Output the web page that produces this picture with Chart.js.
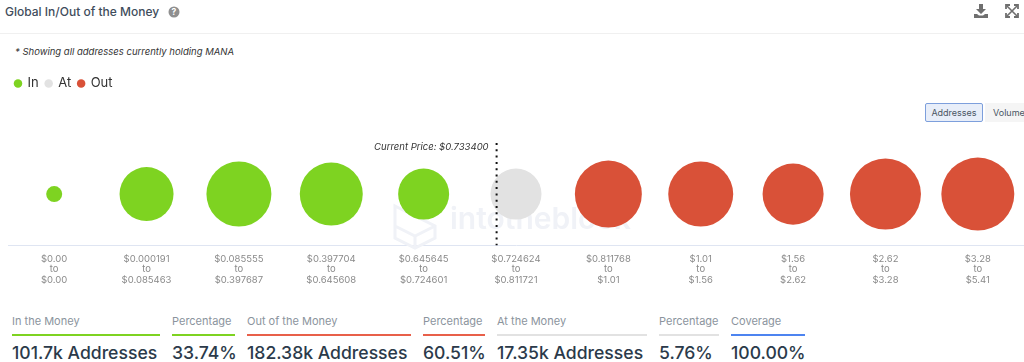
<!DOCTYPE html>
<html lang="en">
<head>
  <meta charset="UTF-8">
  <title>Global In/Out of the Money</title>
  <script src="https://cdn.jsdelivr.net/npm/chart.js"></script>
  <style>
    html, body {
      margin: 0;
      background: #fff;
      overflow: hidden;
    }
    body {
      font-family: Inter, 'Noto Sans', sans-serif;
      width: 1024px;
      height: 362px;
      position: relative;
      color: #2b3a4a;
    }
    .abs { position: absolute; white-space: nowrap; }
    .title { left: 5px; top: 3px; font-size: 12px; line-height: 18px; font-weight: 500; color: #3f4d5c; }
    .rule { left: 0; top: 33px; width: 1024px; height: 1px; background: #f0f0f0; }
    .note { left: 15px; top: 45px; font-size: 9.5px; line-height: 13px; font-style: italic; color: #333; }
    .btn { top: 103px; height: 19px; line-height: 19px; font-size: 9px; text-align: center; color: #4a5563; box-sizing: border-box; }
    #btnAddr { left: 925px; width: 58px; background: #e8eef9; border: 1px solid #7d9fdc; border-radius: 2px; line-height: 17px; }
    #btnVol { left: 985px; width: 39px; background: #f5f5f5; text-align: left; padding-left: 8px; overflow: hidden; }
    #chartWrap { left: 0; top: 70px; width: 1024px; height: 224px; }
    .statLabel { top: 314px; font-size: 11px; line-height: 14px; color: #8b949d; }
    .statBar { top: 334px; height: 2px; }
    .statValue { top: 342px; font-size: 17.6px; line-height: 22px; font-weight: 500; color: #2b3a4a; }
    svg { position: absolute; }
  </style>
</head>
<body>
  <div class="abs title">Global In/Out of the Money</div>
  <svg style="left:168px;top:6px" width="12" height="12" viewBox="0 0 12 12">
    <circle cx="6" cy="6" r="5.5" fill="#8f8f8f"/>
    <text x="6" y="9" font-size="8.5" font-weight="700" text-anchor="middle" fill="#fff" font-family="Inter">?</text>
  </svg>
  <svg style="left:974px;top:4px" width="14" height="14" viewBox="0 0 14 14">
    <path d="M5 0h4v5h3L7 10 2 5h3z M0 10h3l2 1.5h4L11 10h3v4H0z" fill="#6f6f6f"/>
  </svg>
  <svg style="left:1005px;top:4px" width="14" height="14" viewBox="0 0 14 14" fill="none" stroke="#6f6f6f" stroke-width="1.6">
    <path d="M2 2l10 10M12 2L2 12"/>
    <path d="M1 5V1h4M9 1h4v4M13 9v4H9M5 13H1V9" stroke-width="1.8"/>
  </svg>
  <div class="abs rule"></div>
  <div class="abs note">* Showing all addresses currently holding MANA</div>
  <div class="abs btn" id="btnAddr">Addresses</div>
  <div class="abs btn" id="btnVol">Volume</div>
  <div class="abs" id="chartWrap"><canvas id="moneyChart" width="1024" height="224"></canvas></div>
  <div id="stats"></div>

  <script>
    const rangeFrom = ["$0.00", "$0.000191", "$0.085555", "$0.397704", "$0.645645", "$0.724624", "$0.811768", "$1.01", "$1.56", "$2.62", "$3.28"];
    const rangeTo = ["$0.00", "$0.085463", "$0.397687", "$0.645608", "$0.724601", "$0.811721", "$1.01", "$1.56", "$2.62", "$3.28", "$5.41"];

    // addresses per bucket in thousands
    const inValues = [0.96, 20.0, 31.8, 29.4, 17.35];
    const atValues = [17.35];
    const outValues = [34.3, 31.8, 27.2, 39.7, 42.5];

    const currentPriceLabel = "Current Price: $0.733400";
    const currentPriceIndex = 4.79;

    const statLabels = ["In the Money", "Percentage", "Out of the Money", "Percentage", "At the Money", "Percentage", "Coverage"];
    const statValues = ["101.7k Addresses", "33.74%", "182.38k Addresses", "60.51%", "17.35k Addresses", "5.76%", "100.00%"];
    const statColors = ["#7ed321", "#7ed321", "#e8604a", "#e8604a", "#e2e2e2", "#e2e2e2", "#4d84f0"];
    const statLeft = [12, 172, 247, 423, 497, 659, 731];
    const statWidth = [148, 63, 164, 62, 150, 60, 74];

    const stats = document.getElementById("stats");
    statLabels.forEach((label, i) => {
      stats.innerHTML +=
        `<div class="abs statLabel" style="left:${statLeft[i]}px">${label}</div>` +
        `<div class="abs statBar" style="left:${statLeft[i]}px;width:${statWidth[i]}px;background:${statColors[i]}"></div>` +
        `<div class="abs statValue" style="left:${statLeft[i]}px">${statValues[i]}</div>`;
    });

    // bubbles need a string x to land on the right category, the tick callback splits it again
    const labels = rangeFrom.map((from, i) => from + "|to|" + rangeTo[i]);

    // bubble radius grows slower than the square root of the address count
    function radius(ctx) {
      const v = ctx.raw ? ctx.raw.v : 0;
      return 25.5 * Math.pow(v / 17.35, 0.4);
    }

    const toPoints = (values, start) => values.map((v, i) => ({ x: labels[start + i], y: 0.5, v }));

    const priceLine = {
      id: "priceLine",
      beforeInit(chart) {
        // leaves the gap between legend and plot
        const fit = chart.legend.fit;
        chart.legend.fit = function () {
          fit.call(this);
          this.height += 43;
        };
      },
      beforeDatasetsDraw(chart) {
        const { ctx, chartArea } = chart;
        ctx.save();
        ctx.fillStyle = "#f0f2f7";
        ctx.font = "600 30px Inter";
        ctx.textBaseline = "middle";
        ctx.fillText("intotheblock", 450, chartArea.top + 77);
        ctx.strokeStyle = "#f0f2f7";
        ctx.lineWidth = 3;
        const cx = 415, cy = chartArea.top + 83;
        ctx.beginPath();
        ctx.moveTo(cx - 20, cy - 20);
        ctx.lineTo(cx + 20, cy);
        ctx.lineTo(cx + 20, cy + 12);
        ctx.lineTo(cx, cy + 22);
        ctx.lineTo(cx - 20, cy + 12);
        ctx.closePath();
        ctx.moveTo(cx - 20, cy);
        ctx.lineTo(cx, cy + 10);
        ctx.lineTo(cx + 20, cy);
        ctx.moveTo(cx, cy + 10);
        ctx.lineTo(cx, cy + 22);
        ctx.stroke();
        ctx.restore();
      },
      afterDatasetsDraw(chart) {
        const { ctx, chartArea, scales } = chart;
        const x = scales.x.getPixelForValue(currentPriceIndex);
        ctx.save();
        ctx.strokeStyle = "#111";
        ctx.lineWidth = 2;
        ctx.setLineDash([2, 4.3]);
        ctx.beginPath();
        ctx.moveTo(x, chartArea.top);
        ctx.lineTo(x, chartArea.bottom);
        ctx.stroke();
        ctx.setLineDash([]);
        ctx.fillStyle = "#333";
        ctx.font = "italic 9.5px Inter";
        ctx.textAlign = "right";
        ctx.textBaseline = "middle";
        ctx.fillText(currentPriceLabel, x - 8, chartArea.top + 4);
        ctx.restore();
      }
    };

    new Chart(document.getElementById("moneyChart"), {
      type: "bubble",
      data: {
        labels,
        datasets: [
          { label: "In", data: toPoints(inValues, 0), backgroundColor: "#7ed321", hoverBackgroundColor: "#7ed321" },
          { label: "At", data: toPoints(atValues, 5), backgroundColor: "#e2e2e2", hoverBackgroundColor: "#e2e2e2" },
          { label: "Out", data: toPoints(outValues, 6), backgroundColor: "#d95138", hoverBackgroundColor: "#d95138" }
        ]
      },
      plugins: [priceLine],
      options: {
        responsive: false,
        animation: false,
        clip: false,
        layout: { autoPadding: false, padding: { left: 8, right: 0, top: 0, bottom: 0 } },
        elements: { point: { radius, borderWidth: 0, hoverRadius: radius } },
        plugins: {
          tooltip: { enabled: false },
          legend: {
            position: "top",
            align: "start",
            labels: {
              usePointStyle: true,
              pointStyle: "circle",
              boxWidth: 6,
              boxHeight: 6,
              padding: 7,
              color: "#333",
              font: { family: "Inter", size: 13 }
            }
          }
        },
        scales: {
          x: {
            type: "category",
            offset: true,
            grid: { display: false, drawTicks: false },
            border: { color: "#dfe5f2" },
            ticks: {
              autoSkip: false,
              maxRotation: 0,
              padding: 8,
              color: "#8a8a8a",
              font: { family: "Inter", size: 9.5, lineHeight: 1.15 },
              callback(value) {
                return this.getLabelForValue(value).split("|");
              }
            }
          },
          y: { display: false, min: 0, max: 1 }
        }
      }
    });
  </script>
</body>
</html>
